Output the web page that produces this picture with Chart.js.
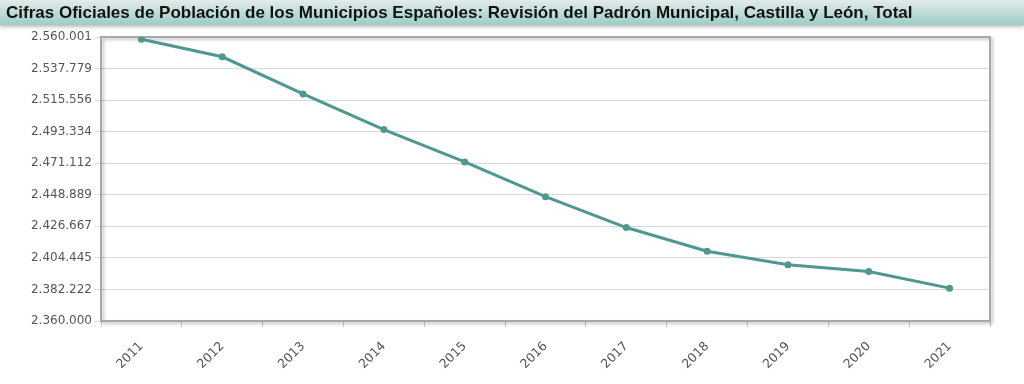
<!DOCTYPE html>
<html>
<head>
<meta charset="utf-8">
<script src="https://cdn.jsdelivr.net/npm/chart.js@4"></script>
<style>
    html, body { margin: 0; padding: 0; background: #fff; width: 1024px; height: 384px; overflow: hidden; }
    .title-bar {
        height: 25px;
        background: linear-gradient(to bottom, #e2ebea 0%, #bfdcd8 50%, #9ccdc6 100%);
        box-shadow: 0 2px 3px rgba(0, 0, 0, 0.25);
        font-family: "Liberation Sans", Arial, sans-serif;
        font-weight: bold;
        font-size: 17px;
        line-height: 25px;
        padding-left: 6px;
        color: #111;
        position: relative;
        z-index: 1;
    }
    .chart-wrap { position: absolute; left: 0; top: 25px; width: 1024px; height: 359px; }
</style>
</head>
<body>
<div class="title-bar">Cifras Oficiales de Población de los Municipios Españoles: Revisión del Padrón Municipal, Castilla y León, Total</div>
<div class="chart-wrap"><canvas id="popChart"></canvas></div>
<script>
// Años del padrón
const years = ['2011', '2012', '2013', '2014', '2015', '2016', '2017', '2018', '2019', '2020', '2021'];
// Población total, Castilla y León
const population = [2558463, 2546078, 2519875, 2494790, 2472052, 2447519, 2425801, 2409164, 2399548, 2394918, 2383139];
// Marcas del eje Y tal como aparecen
const yTicks = [2360000, 2382222, 2404445, 2426667, 2448889, 2471112, 2493334, 2515556, 2537779, 2560001];

const lineColor = '#4f9890';
const axisColor = '#a8a8a8';

const formatNumber = (n) => n.toString().replace(/\B(?=(\d{3})+(?!\d))/g, '.');

// Marco y sombra del área del gráfico
const frame = {
    id: 'frame',
    beforeDatasetsDraw(chart) {
        const { ctx, chartArea: a } = chart;
        ctx.save();
        ctx.shadowColor = 'rgba(0,0,0,0.25)';
        ctx.shadowBlur = 3;
        ctx.shadowOffsetX = 2;
        ctx.shadowOffsetY = 2;
        ctx.strokeStyle = axisColor;
        ctx.lineWidth = 2;
        ctx.strokeRect(a.left, a.top, a.right - a.left, a.bottom - a.top);
        ctx.restore();
    }
};

new Chart(document.getElementById('popChart'), {
    type: 'line',
    data: {
        labels: years,
        datasets: [{
            data: population,
            borderColor: lineColor,
            backgroundColor: lineColor,
            borderWidth: 3,
            pointRadius: 3.5,
            pointBackgroundColor: lineColor,
            pointBorderWidth: 0,
            tension: 0,
            fill: false
        }]
    },
    options: {
        responsive: true,
        maintainAspectRatio: false,
        animation: false,
        layout: { padding: { top: 12, right: 34, left: 0, bottom: 0 } },
        plugins: { legend: { display: false }, tooltip: { enabled: false } },
        scales: {
            x: {
                offset: true,
                grid: { drawOnChartArea: false, drawTicks: true, tickLength: 6, color: '#c8c8c8', offset: true },
                border: { color: axisColor, width: 2 },
                ticks: {
                    minRotation: 45,
                    maxRotation: 45,
                    color: '#555',
                    font: { family: 'DejaVu Sans', size: 12.5 },
                    padding: 12
                },
                afterFit(scale) { scale.height = 63; }
            },
            y: {
                min: yTicks[0],
                max: yTicks[yTicks.length - 1],
                afterBuildTicks(scale) { scale.ticks = yTicks.map(v => ({ value: v })); },
                grid: { color: '#d8d8d8', tickLength: 6, drawTicks: true },
                border: { color: axisColor, width: 2 },
                ticks: {
                    color: '#555',
                    font: { family: 'DejaVu Sans', size: 12 },
                    padding: 3,
                    callback: (v) => formatNumber(v)
                },
                afterFit(scale) { scale.width = 101; }
            }
        }
    },
    plugins: [frame]
});
</script>
</body>
</html>
